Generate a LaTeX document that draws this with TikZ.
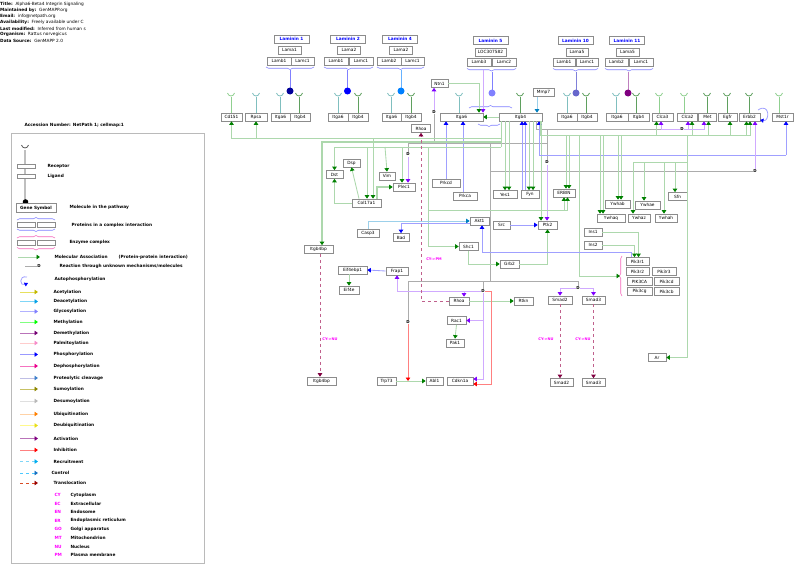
\documentclass[tikz,border=0pt]{standalone}
\usepackage{fontspec}
\setmainfont{DejaVu Sans}
\usetikzlibrary{arrows.meta,decorations.pathreplacing,calc}
\definecolor{boxgray}{HTML}{8C8C8C}
\definecolor{assocln}{HTML}{ADD8AD}
\definecolor{assochd}{HTML}{008000}
\definecolor{phosln}{HTML}{A0A0FF}
\definecolor{phoshd}{HTML}{0000FF}
\definecolor{actln}{HTML}{D0AAFF}
\definecolor{acthd}{HTML}{8000FF}
\definecolor{inhln}{HTML}{FF8080}
\definecolor{inhhd}{HTML}{FF0000}
\definecolor{cleaveln}{HTML}{9CD0EA}
\definecolor{cleavehd}{HTML}{0080C0}
\definecolor{transln}{HTML}{C0608C}
\definecolor{transhd}{HTML}{800040}
\definecolor{unkln}{HTML}{ACACAC}
\definecolor{lamblue}{HTML}{0000FF}
\definecolor{bracebl}{HTML}{8080FF}
\definecolor{rcpta}{HTML}{80BFBF}
\definecolor{rcptb}{HTML}{5FA05F}
\definecolor{rcptc}{HTML}{90D090}
\definecolor{cmpmag}{HTML}{FF00FF}
\newcommand{\gf}{\fontsize{4.3}{5}\selectfont}
\newcommand{\lf}{\fontsize{4.3}{5}\selectfont\bfseries}
\tikzset{
  gene/.style={draw=boxgray, fill=white, line width=0.7pt, font=\gf, inner sep=0.5pt, minimum height=8pt, minimum width=19pt},
  lamtitle/.style={gene, font=\lf, text=lamblue, minimum width=35pt},
  assoc/.style={draw=assocln, line width=0.85pt, -{Triangle[length=3.5pt,width=4.5pt,color=assochd]}},
  bus/.style={draw=assocln, line width=0.85pt},
  phos/.style={draw=phosln, line width=0.85pt, -{Triangle[length=3.5pt,width=4.5pt,color=phoshd]}},
  actv/.style={draw=actln, line width=0.85pt, -{Triangle[length=3.5pt,width=4.5pt,color=acthd]}},
  inhib/.style={draw=inhln, line width=0.85pt, -{Triangle[length=3.5pt,width=4.5pt,color=inhhd]}},
  cleave/.style={draw=cleaveln, line width=0.85pt, -{Triangle[length=3.5pt,width=4.5pt,color=cleavehd]}},
  transloc/.style={draw=transln, line width=0.7pt, dashed, -{Triangle[length=3.5pt,width=4.5pt,color=transhd]}},
  unknown/.style={draw=unkln, line width=0.6pt},
  dmark/.style={font=\fontsize{4}{4}\selectfont\bfseries, inner sep=0.4pt, fill=white},
  cmp/.style={font=\fontsize{3.6}{4}\selectfont\bfseries, text=cmpmag},
  lamb/.style={draw=bracebl, line width=0.6pt, decorate, decoration={brace, mirror, amplitude=2.5pt}},
  lgd/.style={font=\lf, anchor=west},
  hdr/.style={font=\fontsize{4.3}{5}\selectfont, anchor=west, inner sep=0pt},
  rcup/.pic={\draw[line width=0.8pt] (-3.5,-3) .. controls (-2.5,1) and (2.5,1) .. (3.5,-3);},
}
% receptor: x, colour, box
\newcommand{\rcpt}[3]{\draw[#2, line width=1pt] (#1,97) -- (#1,0 |- #3.north); \pic[#2] at (#1,96) {rcup};}

\begin{document}
\begin{tikzpicture}[x=1pt, y=-1pt]
\useasboundingbox (0,0) rectangle (800,570);

% header
\node[hdr] at (0,4) {\textbf{Title:}\ \ Alpha6-Beta4 Integrin Signaling};
\node[hdr] at (0,10.5) {\textbf{Maintained by:}\ \ GenMAPP.org};
\node[hdr] at (0,16.5) {\textbf{Email:}\ \ info@netpath.org};
\node[hdr] at (0,22.5) {\textbf{Availability:}\ \ Freely available under C};
\node[hdr] at (0,28.5) {\textbf{Last modified:}\ \ Inferred from human s};
\node[hdr] at (0,34.5) {\textbf{Organism:}\ \ Rattus norvegicus};
\node[hdr] at (0,40.5) {\textbf{Data Source:}\ \ GenMAPP 2.0};

% legend
\node[lgd] at (21,125.5) {Accession Number: NetPath 1; cellmap:1};
\draw[boxgray!60, line width=0.9pt] (11,133) rectangle (204,563);
\draw[gray!50, line width=1.6pt] (25,150) -- (25,202);
\pic[gray!70!black] at (25,148) {rcup};
\draw[boxgray, fill=white, line width=0.6pt] (17,164) rectangle (35,168.5);
\draw[boxgray, fill=white, line width=0.6pt] (17,174) rectangle (35,178.5);
\node[lgd] at (44,166) {Receptor};
\node[lgd] at (44,176) {Ligand};
\fill (25.5,202) circle[radius=2.8];
\node[gene, font=\lf, minimum width=40pt, minimum height=9pt] (lgsym) at (36,208) {Gene Symbol};
\node[lgd] at (66,207) {Molecule in the pathway};
\draw[lamb, decoration={mirror=false}] (17,220) -- (55,220);
\draw[boxgray, fill=white, line width=0.6pt] (17,222) rectangle (35,227) (37,222) rectangle (55,227);
\draw[lamb] (17,229) -- (55,229);
\node[lgd] at (68,225) {Proteins in a complex interaction};
\draw[lamb, draw=magenta!60, decoration={mirror=false}] (17,238) -- (55,238);
\draw[boxgray, fill=white, line width=0.6pt] (17,240) rectangle (35,245) (37,240) rectangle (55,245);
\draw[lamb, draw=magenta!60] (17,247.5) -- (55,247.5);
\node[lgd] at (66,242) {Enzyme complex};
\draw[assoc] (18,257) -- (40,257);
\node[lgd] at (51,257) {Molecular Association \hspace{8pt} (Protein-protein interaction)};
\draw[unknown] (25,266) -- (37,266);
\node[dmark] at (39,266) {D};
\node[lgd] at (56,266) {Reaction through unknown mechanisms/molecules};
\draw[draw=phosln, line width=0.8pt, -{Triangle[length=3.5pt,width=4pt,color=phoshd]}] (27,277) .. controls (18,275) and (20,287) .. (28,283);
\node[lgd] at (51,279.5) {Autophosphorylation};
\foreach \yy/\ln/\hd/\txt in {
  292/olive!35!yellow!60/olive!55!yellow/Acetylation,
  301.5/cyan!50/cyan!90!blue/Deacetylation,
  311.5/blue!30/blue!50/Glycosylation,
  322/green!50/green/Methylation,
  333/violet!55/violet!90!black/Demethylation,
  343/pink!80/magenta!45/Palmitoylation,
  354.5/blue!40/blue/Phosphorylation,
  366/magenta!55/magenta/Dephosphorylation,
  378/cyan!20!blue!25/cyan!50!blue!80/Proteolytic cleavage,
  389/olive!50/olive/Sumoylation,
  401/gray!25/gray!55/Desumoylation,
  414/orange!35/orange/Ubiquitination,
  425.5/yellow!45/yellow!90!black/Deubiquitination,
  438.5/violet!55/violet/Activation,
  450/red!50/red/Inhibition}{
  \draw[draw=\ln, line width=0.9pt, -{Triangle[length=3.5pt,width=4.5pt,color=\hd]}] (20,\yy) -- (38,\yy);
  \node[lgd] at (50,\yy) {\txt};
}
\draw[draw=cyan!50, dashed, line width=0.7pt, -{Triangle[length=3.5pt,width=4.5pt,color=cyan]}] (20,461.5) -- (38,461.5);
\node[lgd] at (50,461.5) {Recruitment};
\draw[draw=blue!30!cyan!70, dashed, line width=0.7pt, -{Triangle[length=3.5pt,width=4.5pt,color=cyan!50!blue]}] (20,473) -- (38,473);
\node[lgd] at (48,473) {Control};
\draw[draw=red!40!brown, dashed, line width=0.7pt, -{Triangle[length=3.5pt,width=4.5pt,color=red!60!black]}] (20,483) -- (38,483);
\node[lgd] at (50,483) {Translocation};
\foreach \yy/\ab/\txt in {495/CY/Cytoplasm, 503.5/EC/Extracellular, 512/EN/Endosome, 520.5/ER/Endoplasmic reticulum,
  529/GO/Golgi apparatus, 538/MT/Mitochondrion, 546.5/NU/Nucleus, 555/PM/Plasma membrane}{
  \node[cmp, anchor=west, font=\lf] at (51,\yy) {\ab};
  \node[lgd] at (67,\yy) {\txt};
}

% laminins
\node[lamtitle] (lm1) at (291.5,39) {Laminin 1};
\node[gene, minimum width=23pt] (lm1a) at (289.5,50) {Lama1};
\node[gene, minimum width=24pt] (lm1b) at (279,61) {Lamb1};
\node[gene, minimum width=23pt] (lm1c) at (302.5,61) {Lamc1};
\node[lamtitle] (lm2) at (348,39) {Laminin 2};
\node[gene, minimum width=23pt] (lm2a) at (349,50) {Lama2};
\node[gene, minimum width=24pt] (lm2b) at (336,61) {Lamb1};
\node[gene, minimum width=24pt] (lm2c) at (361,61) {Lamc1};
\node[lamtitle] (lm4) at (400,39) {Laminin 4};
\node[gene, minimum width=23pt] (lm4a) at (401,50) {Lama2};
\node[gene, minimum width=24pt] (lm4b) at (389,61) {Lamb2};
\node[gene, minimum width=23pt] (lm4c) at (412.5,61) {Lamc1};
\node[lamtitle] (lm5) at (490.5,40.5) {Laminin 5};
\node[gene, minimum width=31pt] (lm5a) at (490.5,52) {LOC307582};
\node[gene, minimum width=24pt] (lm5b) at (479,62) {Lamb3};
\node[gene, minimum width=24pt] (lm5c) at (504,62) {Lamc2};
\node[lamtitle] (lm10) at (575.5,40.5) {Laminin 10};
\node[gene, minimum width=22pt] (lm10a) at (577,52) {Lama5};
\node[gene, minimum width=22pt] (lm10b) at (564,62) {Lamb1};
\node[gene, minimum width=22pt] (lm10c) at (587,62) {Lamc1};
\node[lamtitle] (lm11) at (627,40.5) {Laminin 11};
\node[gene, minimum width=23pt] (lm11a) at (627.5,52) {Lama5};
\node[gene, minimum width=23pt] (lm11b) at (616.5,62) {Lamb2};
\node[gene, minimum width=24pt] (lm11c) at (641,62) {Lamc1};
\draw[lamb] (266,67) -- (314,67);
\draw[lamb] (324,67) -- (373,67);
\draw[lamb] (377,67) -- (424,67);
\draw[lamb] (467,68.5) -- (516,68.5);
\draw[lamb] (553,68.5) -- (598,68.5);
\draw[lamb] (605,68.5) -- (653,68.5);
\draw[bracebl, line width=0.8pt] (290,70) -- (290,91);
\fill[blue!60!black] (290,91) circle[radius=3.5];
\draw[bracebl, line width=0.8pt] (347.5,70) -- (347.5,91);
\fill[blue] (347.5,91) circle[radius=3.5];
\draw[blue!50!cyan!60, line width=0.8pt] (401,70) -- (401,91);
\fill[blue!50!cyan] (401,91) circle[radius=3.5];
\draw[bracebl, line width=0.8pt] (492,71.5) -- (492,93);
\fill[bracebl] (492,93) circle[radius=3.5];
\draw[bracebl!70!gray, line width=0.8pt] (576,71.5) -- (576,93);
\fill[bracebl!80!black] (576,93) circle[radius=3.5];
\draw[violet!50, line width=0.8pt] (628,71.5) -- (628,93);
\fill[violet] (628,93) circle[radius=3.5];

% receptors and membrane molecules
\node[gene, minimum width=21pt] (cd151) at (231.5,117) {Cd151};
\node[gene, minimum width=22pt] (rpsa) at (256,117) {Rpsa};
\node[gene] (a6a) at (280.5,117) {Itga6};
\node[gene, minimum width=20pt] (b4a) at (300,117) {Itgb4};
\node[gene, minimum width=20pt] (a6b) at (338,117) {Itga6};
\node[gene, minimum width=20pt] (b4b) at (358,117) {Itgb4};
\node[gene] (a6c) at (391.5,117) {Itga6};
\node[gene, minimum width=20pt] (b4c) at (411,117) {Itgb4};
\node[gene, minimum width=43pt] (itga6) at (461.5,117) {Itga6};
\node[gene, minimum width=43pt] (itgb4) at (520.5,117) {Itgb4};
\node[gene, minimum width=20pt] (a6d) at (567,117) {Itga6};
\node[gene, minimum width=20pt] (b4d) at (587,117) {Itgb4};
\node[gene, minimum width=22pt] (a6e) at (617,117) {Itga6};
\node[gene, minimum width=21pt] (b4e) at (638.5,117) {Itgb4};
\node[gene, minimum width=21pt] (clca3) at (662.5,117) {Clca3};
\node[gene, minimum width=20pt] (clca2) at (687.5,117) {Clca2};
\node[gene, minimum width=18pt] (met) at (707.5,117) {Met};
\node[gene, minimum width=19pt] (egfr) at (727.5,117) {Egfr};
\node[gene, minimum width=21pt] (erbb2) at (749.5,117) {Erbb2};
\node[gene, minimum width=21pt] (mst1r) at (782.5,117) {Mst1r};
\rcpt{231}{rcptc}{cd151}
\rcpt{256}{rcpta}{rpsa}
\rcpt{280}{rcpta}{a6a}
\rcpt{299}{rcptb}{b4a}
\rcpt{338}{rcpta}{a6b}
\rcpt{358}{rcptb}{b4b}
\rcpt{391}{rcpta}{a6c}
\rcpt{411}{rcptb}{b4c}
\rcpt{459}{rcpta}{itga6}
\rcpt{520}{rcptb}{itgb4}
\rcpt{567}{rcpta}{a6d}
\rcpt{586}{rcptb}{b4d}
\rcpt{616}{rcpta}{a6e}
\rcpt{636}{rcptb}{b4e}
\rcpt{659}{rcptc}{clca3}
\rcpt{684}{rcptc}{clca2}
\rcpt{707}{rcptb}{met}
\rcpt{727}{rcptb}{egfr}
\rcpt{749}{rcptb}{erbb2}
\rcpt{779}{rcptc}{mst1r}
\draw[lamb, decoration={mirror=false}] (469,108) -- (512,108);
\draw[lamb] (478,124) -- (500,124);

% other molecules
\node[gene, minimum width=17pt] (ntn1) at (439.5,83.5) {Ntn1};
\node[gene] (rhoaup) at (421,128.5) {Rhoa};
\node[gene, minimum width=21pt] (mmp7) at (543.5,92.5) {Mmp7};
\node[gene, minimum width=17pt] (dst) at (334.5,174.5) {Dst};
\node[gene, minimum width=17pt] (dsp) at (351.5,163) {Dsp};
\node[gene, minimum width=16pt] (vim) at (387,176) {Vim};
\node[gene, minimum width=22pt] (plec1) at (404,187) {Plec1};
\node[gene, minimum width=29pt] (col17a1) at (366.5,203) {Col17a1};
\node[gene, minimum width=28pt] (prkcd) at (446,183) {Prkcd};
\node[gene, minimum width=24pt] (prkca) at (465,196) {Prkca};
\node[gene, minimum width=24pt] (yes1) at (505,194.5) {Yes1};
\node[gene, minimum width=18pt] (fyn) at (530,194.5) {Fyn};
\node[gene, minimum width=22pt] (erbin) at (564,193) {ERBIN};
\node[gene, minimum width=25pt] (ywhab) at (617.5,204) {Ywhab};
\node[gene, minimum width=25pt] (ywhae) at (647.5,205) {Ywhae};
\node[gene, minimum width=19pt] (sfn) at (677.5,196.5) {Sfn};
\node[gene, minimum width=28pt] (ywhaq) at (611,218) {Ywhaq};
\node[gene, minimum width=22pt] (ywhaz) at (639,218) {Ywhaz};
\node[gene, minimum width=22pt] (ywhah) at (666,218) {Ywhah};
\node[gene] (akt1) at (479.5,221) {Akt1};
\node[gene, minimum width=17pt] (src) at (501.5,225) {Src};
\node[gene] (ptk2) at (547.5,225) {Ptk2};
\node[gene, minimum width=29pt] (b4bp) at (318.5,249.5) {Itgb4bp};
\node[gene, minimum width=22pt] (casp3) at (368,233) {Casp3};
\node[gene, minimum width=16pt] (bad) at (401,237.5) {Bad};
\node[gene] (shc1) at (468.5,246.5) {Shc1};
\node[gene] (grb2) at (509.5,264) {Grb2};
\node[gene, minimum width=18pt] (ins1) at (593,232) {Ins1};
\node[gene, minimum width=18pt] (ins2) at (593,245) {Ins2};
\node[gene, minimum width=23pt] (pik3r1) at (637.5,261.5) {Pik3r1};
\node[gene, minimum width=23pt] (pik3r2) at (637.5,271.5) {Pik3r2};
\node[gene, minimum width=24pt] (pik3r3) at (664,271.5) {Pik3r3};
\node[gene, minimum width=25pt] (pik3ca) at (639.5,281.5) {PIK3CA};
\node[gene, minimum width=25pt] (pik3cd) at (666.5,281.5) {Pik3cd};
\node[gene, minimum width=25pt] (pik3cg) at (639.5,291.5) {Pik3cg};
\node[gene, minimum width=25pt] (pik3cb) at (666.5,291.5) {Pik3cb};
\draw[lamb, draw=magenta!60, decoration={mirror=false}] (622,296) -- (622,256);
\node[gene, minimum width=29pt] (eif4ebp1) at (352.5,270) {Eif4ebp1};
\node[gene, minimum width=20pt] (eif4e) at (349,290) {Eif4e};
\node[gene, minimum width=22pt] (frap1) at (397,271) {Frap1};
\node[gene, minimum width=20pt] (rhoa) at (459,301) {Rhoa};
\node[gene] (rtkn) at (523.5,301) {Rtkn};
\node[gene] (rac1) at (456.5,320.5) {Rac1};
\node[gene, minimum width=18pt] (pak1) at (455,343) {Pak1};
\node[gene, minimum width=24pt] (smad2) at (560,300) {Smad2};
\node[gene, minimum width=23pt] (smad3) at (593.5,300) {Smad3};
\node[gene, minimum width=18pt] (ar) at (657,357.5) {Ar};
\node[gene, minimum width=29pt] (b4bpnu) at (321.5,381) {Itgb4bp};
\node[gene] (trp73) at (386.5,381) {Trp73};
\node[gene, minimum width=17pt] (abl1) at (434.5,381) {Abl1};
\node[gene, minimum width=26pt] (cdkn1a) at (460,381) {Cdkn1a};
\node[gene, minimum width=23pt] (smad2nu) at (561.5,382.5) {Smad2};
\node[gene, minimum width=23pt] (smad3nu) at (593.5,382.5) {Smad3};

% unknown-mechanism lines
\node[dmark] (dntn) at (434,112) {D};
\node[dmark] (dplec) at (408,154.5) {D};
\node[dmark] (dptk) at (547,162.5) {D};
\node[dmark] (dclca) at (682,129) {D};
\node[dmark] (derb) at (755,171) {D};
\node[dmark] (dabl) at (408,322) {D};
\node[dmark] (drho) at (483,291) {D};
\node[dmark] (dsmad) at (578,288) {D};
\draw[unknown] (dntn) -- (434,143);
\draw[unknown] (408,143) -- (547,143);
\draw[unknown] (dplec) -- (408,143);
\draw[unknown] (536,0 |- itgb4.south) |- (dclca);
\draw[unknown] (547,129) -- (dptk);
\draw[unknown] (490,143) -- (490,281);
\draw[unknown] (490,171) -- (derb);
\draw[unknown] (408,281) -- (578,281);
\draw[unknown] (408,281) -- (dabl);
\draw[unknown] (483,281) -- (drho);
\draw[unknown] (578,281) -- (dsmad);

% laminin 5 and integrin partners
\draw[actv] (483,70) -- (483,0 |- itga6.north);
\draw[assoc] (ntn1.east) -- (479,83.5) -- (479,0 |- itga6.north);
\draw[actv] (dntn) -- (434,0 |- ntn1.south);
\draw[assoc] (itgb4.west) -- (itga6.east);
\draw[cleave] (mmp7.south -| 537,0) -- (537,0 |- itgb4.north);
\draw[phos] (446,0 |- prkcd.north) -- (446,0 |- itga6.south);
\draw[phos] (463,0 |- prkca.north) -- (463,0 |- itga6.south);
\draw[assoc] (505,0 |- itgb4.south) -- (505,0 |- yes1.north);
\draw[assoc] (509,0 |- itgb4.south) -- (509,0 |- yes1.north);
\draw[phos] (522,0 |- fyn.north) -- (522,0 |- itgb4.south);
\draw[phos] (525,0 |- fyn.north) -- (525,0 |- itgb4.south);
\draw[assoc] (529,0 |- itgb4.south) -- (529,0 |- fyn.north);
\draw[assoc] (533,0 |- itgb4.south) -- (533,0 |- fyn.north);
\draw[assoc] (541,0 |- itgb4.south) -- (541,0 |- ptk2.north);
\draw[actv] (dptk) -- (547,0 |- ptk2.north);
\draw[phos] (786,155) -- (786,0 |- mst1r.south);
\draw[phos] (786,155) -| (539,0 |- itgb4.south);

% Col17a1 group
\draw[bus] (501,0 |- itgb4.south) -- (501,147);
\draw[assoc] (501,138) -| (cd151.south);
\draw[assoc] (256,138) -- (rpsa.south);
\draw[assoc] (373,138) -- (373,0 |- col17a1.north);
\draw[assoc, line width=1.3pt] (501,142) -| (322,0 |- b4bp.north);
\draw[assoc] (501,147) -| (dst.north);
\draw[assoc] (367,147) -- (367,0 |- col17a1.north);
\draw[assoc] (385,147) -- (vim.north);
\draw[assoc] (402,147) -- (402,0 |- plec1.north);
\draw[assoc] (col17a1.west) -| (dst.south);
\draw[assoc] (359,0 |- col17a1.north) -- (dsp.south);
\draw[assoc, line width=1.3pt] (377,0 |- col17a1.north) |- (plec1.west);
\draw[actv] (dplec) -- (408,0 |- plec1.north);

% right-hand partners
\draw[bus] (540,0 |- itgb4.south) |- (751,135);
\draw[assoc] (656.5,135) -- (656.5,0 |- clca3.south);
\draw[assoc] (692,135) -- (692,0 |- clca2.south);
\draw[assoc] (708.5,135) -- (708.5,0 |- met.south);
\draw[assoc] (730,135) -- (730,0 |- egfr.south);
\draw[assoc] (746.5,135) -- (746.5,0 |- erbb2.south);
\draw[assoc] (750,135) -- (750,0 |- erbb2.south);
\draw[actv] (dclca) -| (661,0 |- clca3.south);
\draw[actv] (dclca) -| (688,0 |- clca2.south);
\draw[actv] (dclca) -| (704,0 |- met.south);
\draw[actv] (derb) -- (755,0 |- erbb2.south);
\draw[draw=phosln, line width=0.8pt, -{Triangle[length=3.5pt,width=4pt,color=phoshd]}] (758,110) .. controls (770,102) and (770,122) .. (760,120);
\draw[assoc] (566,135) -- (566,0 |- erbin.north);
\draw[assoc] (569,135) -- (569,0 |- erbin.north);
\draw[assoc] (600,135) -- (600,0 |- ywhaq.north);
\draw[assoc] (603,135) -- (603,0 |- ywhaq.north);
\draw[assoc] (618,135) -- (618,0 |- ywhab.north);
\draw[assoc] (621,135) -- (621,0 |- ywhab.north);
\draw[assoc] (687,135) |- (ar.east);
\draw[bus] (633,162) -- (687,162);
\draw[assoc] (633,162) -- (633,0 |- ywhaz.north);
\draw[assoc] (644,162) -- (644,0 |- ywhae.north);
\draw[assoc] (664,162) -- (664,0 |- ywhah.north);
\draw[assoc] (675,162) -- (675,0 |- sfn.north);
\draw[assoc] (579,135) |- (620,276);

% signalling core
\draw[assoc] (428,147) |- (shc1.west);
\draw[assoc] (428,210) -| (564,0 |- erbin.south);
\draw[assoc] (564,210) -| (567.5,0 |- erbin.south);
\draw[cleave] (casp3.north) |- (akt1.west);
\draw[phos] (akt1.west |- 0,223) -| (bad.north);
\draw[assoc] (shc1.south) |- (grb2.west);
\draw[assoc] (grb2.east) -| (ptk2.south);
\draw[phos] (src.east) -- (ptk2.west);
\draw[phos] (pik3r1.north -| 631,0) |- (482,252) -- (482,0 |- akt1.south);
\draw[assoc] (ins1.east) -| (638.5,0 |- pik3r1.north);
\draw[assoc] (ins2.east) -| (634.5,0 |- pik3r1.north);
\draw[phos] (frap1.west) -- (eif4ebp1.east);
\draw[assoc] (eif4ebp1.south -| eif4e.north) -- (eif4e.north);
\draw[assoc] (rhoa.east) -- (rtkn.west);
\draw[assoc] (rac1.south) -- (pak1.north);
\draw[assoc] (trp73.east) -- (abl1.west);
\draw[inhib] (dabl) -- (408,0 |- abl1.west);
\draw[actv] (drho) -| (frap1.south);
\draw[actv] (drho) -| (464,0 |- rhoa.north);
\draw[actv] (drho) |- (rac1.east);
\draw[actv] (483,320) |- (cdkn1a.east |- 0,379);
\draw[inhib] (drho.east) -| (491,384) -- (cdkn1a.east |- 0,384);
\draw[actv] (dsmad) -| (smad2.north);
\draw[actv] (dsmad) -| (smad3.north);

% translocations
\draw[transloc] (rhoa.west) -| (421,0 |- rhoaup.south);
\node[cmp] at (434,259) {CY->PM};
\draw[transloc] (b4bp.south -| 320,0) -- (320,0 |- b4bpnu.north);
\draw[transloc] (smad2.south) -- (smad2.south |- smad2nu.north);
\draw[transloc] (smad3.south) -- (smad3.south |- smad3nu.north);
\node[cmp] at (330,339) {CY->NU};
\node[cmp] at (546,339) {CY->NU};
\node[cmp] at (583,339) {CY->NU};
\end{tikzpicture}
\end{document}
